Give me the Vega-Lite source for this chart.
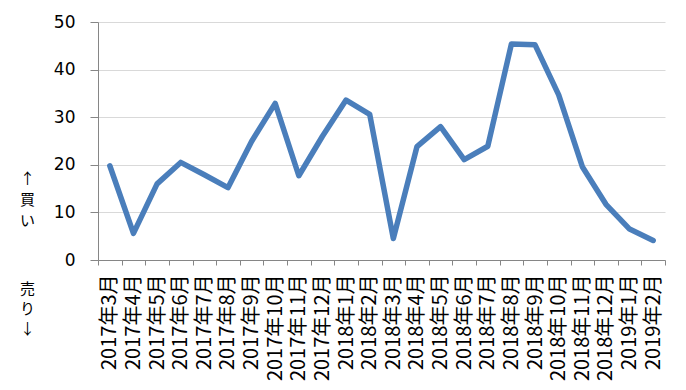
{
  "$schema": "https://vega.github.io/schema/vega-lite/v6.json",
  "width": 567,
  "height": 238,
  "autosize": {"type": "none"},
  "padding": {"left": 98, "top": 22, "right": 21, "bottom": 130},
  "background": "white",
  "config": {"view": {"stroke": null}},
  "data": {"values": [
    {"month": "2017年3月", "value": 19.8},
    {"month": "2017年4月", "value": 5.6},
    {"month": "2017年5月", "value": 16.0},
    {"month": "2017年6月", "value": 20.5},
    {"month": "2017年7月", "value": 17.9},
    {"month": "2017年8月", "value": 15.2},
    {"month": "2017年9月", "value": 24.9},
    {"month": "2017年10月", "value": 32.9},
    {"month": "2017年11月", "value": 17.7},
    {"month": "2017年12月", "value": 26.0},
    {"month": "2018年1月", "value": 33.6},
    {"month": "2018年2月", "value": 30.6},
    {"month": "2018年3月", "value": 4.5},
    {"month": "2018年4月", "value": 23.8},
    {"month": "2018年5月", "value": 28.0},
    {"month": "2018年6月", "value": 21.1},
    {"month": "2018年7月", "value": 23.9},
    {"month": "2018年8月", "value": 45.4},
    {"month": "2018年9月", "value": 45.2},
    {"month": "2018年10月", "value": 34.7},
    {"month": "2018年11月", "value": 19.6},
    {"month": "2018年12月", "value": 11.7},
    {"month": "2019年1月", "value": 6.5},
    {"month": "2019年2月", "value": 4.1}
  ]},
  "mark": {"type": "line", "color": "#4a7ebb", "strokeWidth": 5.5, "strokeCap": "round", "strokeJoin": "round"},
  "encoding": {
    "x": {
      "field": "month", "type": "ordinal", "sort": null,
      "scale": {"type": "band", "paddingInner": 0, "paddingOuter": 0},
      "axis": {
        "title": ["売", "り", "↓"],
        "titleAngle": 0,
        "titleFont": "Noto Sans CJK JP",
        "titleFontSize": 15,
        "titleFontWeight": "normal",
        "titleColor": "black",
        "titleLineHeight": 20,
        "titleAlign": "center",
        "titleBaseline": "middle",
        "titleX": -71,
        "titleY": 28,
        "labelAngle": 270,
        "labelFont": "Noto Sans CJK JP",
        "labelFontSize": 20,
        "labelColor": "black",
        "labelPadding": 9,
        "tickBand": "extent",
        "tickSize": 5,
        "tickColor": "#868686",
        "domainColor": "#868686",
        "grid": false
      }
    },
    "y": {
      "field": "value", "type": "quantitative",
      "scale": {"domain": [0, 50], "nice": false},
      "axis": {
        "values": [0, 10, 20, 30, 40, 50],
        "title": ["↑", "買", "い"],
        "titleAngle": 0,
        "titleFont": "Noto Sans CJK JP",
        "titleFontSize": 15,
        "titleFontWeight": "normal",
        "titleColor": "black",
        "titleLineHeight": 21,
        "titleAlign": "center",
        "titleBaseline": "middle",
        "titleX": -71,
        "titleY": 156,
        "labelFont": "DejaVu Sans",
        "labelFontSize": 17,
        "labelColor": "black",
        "labelPadding": 15,
        "tickSize": 8,
        "tickColor": "#868686",
        "domainColor": "#868686",
        "grid": true,
        "gridColor": "#d9d9d9"
      }
    }
  }
}
